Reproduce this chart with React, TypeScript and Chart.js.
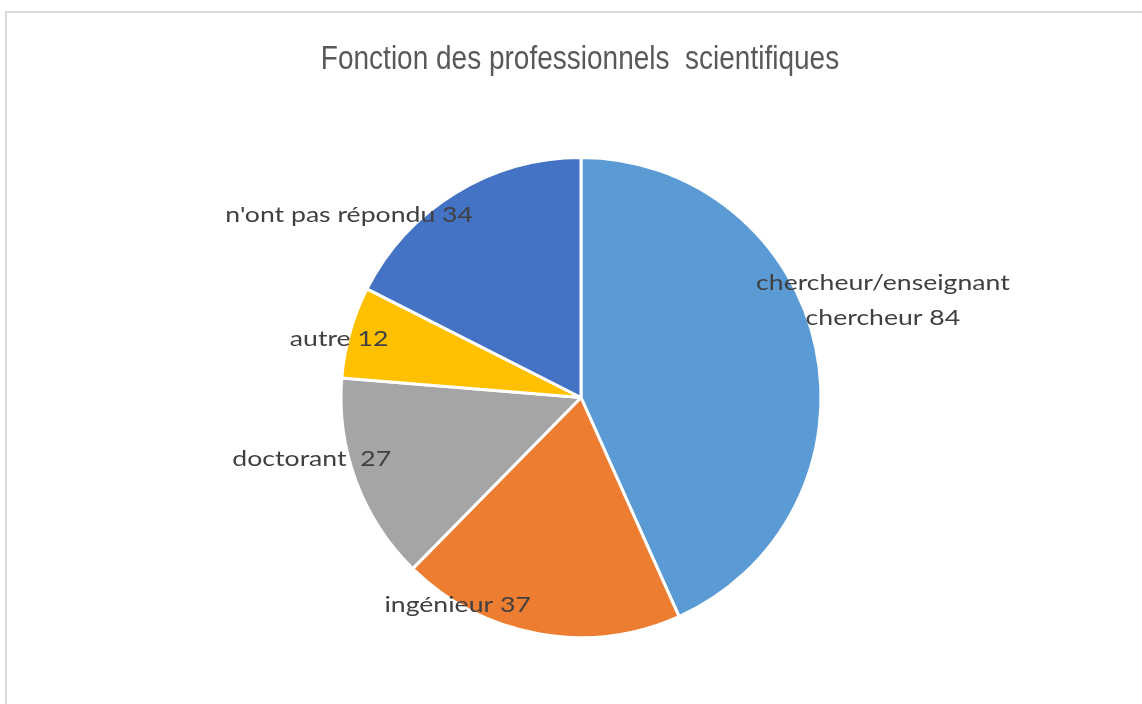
import React, { useEffect, useRef } from "react";
import { Chart, registerables } from "chart.js";

Chart.register(...registerables);

const title = "Fonction des professionnels  scientifiques";
const categories = ["chercheur/enseignant\nchercheur", "ingénieur", "doctorant ", "autre", "n'ont pas répondu"];
const values = [84, 37, 27, 12, 34];
const colors = ["#5B9BD5", "#ED7D31", "#A5A5A5", "#FFC000", "#4472C4"];

// label anchor offsets, in units of the pie radius, relative to the pie centre
const labelAnchors = [
  [1.258, -0.403],
  [-0.514, 0.864],
  [-1.122, 0.256],
  [-1.008, -0.243],
  [-0.966, -0.759],
];

const textPlugin = {
  id: "textPlugin",
  afterDraw(chart: any) {
    const ctx = chart.ctx;
    ctx.save();
    // title
    ctx.fillStyle = "#595959";
    ctx.font = "28px 'Liberation Sans', Arial, sans-serif";
    ctx.textAlign = "center";
    ctx.textBaseline = "alphabetic";
    ctx.save();
    ctx.translate(580, 69);
    ctx.scale(1, 1.2);
    ctx.fillText(title, 0, 0);
    ctx.restore();

    const meta = chart.getDatasetMeta(0);
    ctx.fillStyle = "#404040";
    ctx.font = "22px Lato, 'Noto Sans', sans-serif";
    ctx.textBaseline = "middle";
    meta.data.forEach((arc: any, i: number) => {
      const r = arc.outerRadius;
      const cx = arc.x + labelAnchors[i][0] * r;
      const cy = arc.y + labelAnchors[i][1] * r;
      const lines = `${categories[i]} ${values[i]}`.split("\n");
      const lh = 35;
      lines.forEach((line, j) => {
        const y = cy + (j - (lines.length - 1) / 2) * lh;
        ctx.save();
        ctx.translate(cx, y);
        ctx.scale(1.21, 1);
        ctx.fillText(line, 0, 0);
        ctx.restore();
      });
    });
    ctx.restore();
  },
};

export default function App() {
  const ref = useRef<HTMLCanvasElement>(null);
  useEffect(() => {
    if (!ref.current) return;
    const chart = new Chart(ref.current, {
      type: "pie",
      data: {
        labels: categories.map((c) => c.replace("\n", " ")),
        datasets: [
          {
            data: values,
            backgroundColor: colors,
            borderColor: "#ffffff",
            borderWidth: 3,
          },
        ],
      },
      options: {
        animation: false,
        responsive: false,
        devicePixelRatio: 1,
        layout: { padding: { top: 156, bottom: 65, left: 20, right: 0 } },
        plugins: {
          legend: { display: false },
          title: { display: false },
          tooltip: { enabled: false },
        },
      },
      plugins: [textPlugin],
    });
    return () => chart.destroy();
  }, []);
  return (
    <div style={{ position: "absolute", left: 0, top: 0, width: 1142, height: 704, overflow: "hidden", background: "#fff" }}>
      <div
        style={{
          position: "absolute",
          left: 5,
          top: 11,
          width: 1160,
          height: 720,
          border: "2px solid #d9d9d9",
          boxSizing: "border-box",
        }}
      />
      <canvas ref={ref} width={1142} height={704} style={{ position: "absolute", left: 0, top: 0 }} />
    </div>
  );
}
